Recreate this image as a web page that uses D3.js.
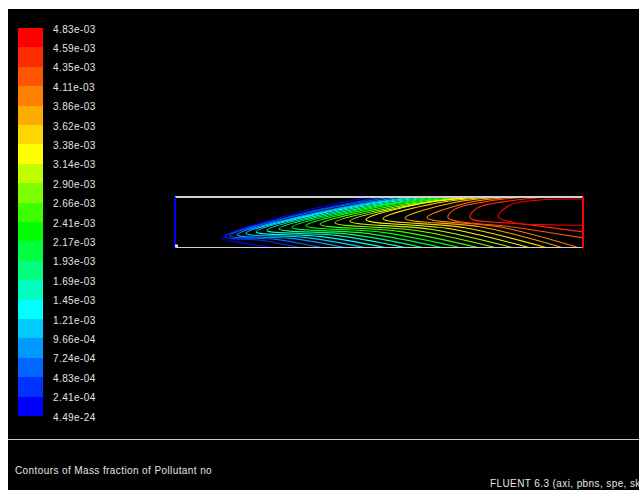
<!DOCTYPE html>
<html>
<head>
<meta charset="utf-8">
<script src="https://cdn.jsdelivr.net/npm/d3@7"></script>
<style>
  body { margin: 0; background: #fff; }
  text { font-family: "Liberation Sans", Arial, sans-serif; font-size: 10px; letter-spacing: 0.4px; fill: #e4e4e4; }
</style>
</head>
<body>
<svg id="chart" width="639" height="490"></svg>
<script>
// colour bar labels, bottom to top (20 bands, 21 boundaries)
const tickLabels = ["4.49e-24", "2.41e-04", "4.83e-04", "7.24e-04", "9.66e-04", "1.21e-03", "1.45e-03",
  "1.69e-03", "1.93e-03", "2.17e-03", "2.41e-03", "2.66e-03", "2.90e-03", "3.14e-03", "3.38e-03",
  "3.62e-03", "3.86e-03", "4.11e-03", "4.35e-03", "4.59e-03", "4.83e-03"];

// contour lines, one per level (lowest first), points as [axial mm, radial mm]
const contourLines = [
  [[195, 50], [121, 34], [47, 9.5], [72, 4], [97, 0]],
  [[207, 50], [128, 34], [50, 10.5], [87, 7], [125, 0]],
  [[217, 50], [136, 35], [55, 11.5], [101, 8], [147, 0]],
  [[226, 50], [144, 35], [62, 12.5], [116, 9], [170, 0]],
  [[235, 50], [153, 36], [71, 14], [130, 10], [190, 0]],
  [[243, 50], [162, 37], [81, 15.5], [145, 11], [210, 0]],
  [[251, 50], [171, 37.5], [92, 17], [161, 12], [230, 0]],
  [[259, 50], [181, 38], [104, 18.5], [176, 13], [248, 0]],
  [[267, 50], [192, 39], [117, 20], [192, 14], [267, 0]],
  [[275, 50], [203, 40], [131, 21.5], [208, 15], [285, 0]],
  [[283, 50], [214, 40.5], [145, 23], [224, 16], [303, 0]],
  [[291, 50], [225, 41], [160, 24.5], [240, 17], [320, 0]],
  [[299, 50], [237, 42], [175, 26], [256, 18], [337, 0]],
  [[307, 50], [249, 44], [191, 27.5], [272, 19], [354, 0]],
  [[317, 50], [262, 44], [208, 28.5], [290, 19.5], [371, 0]],
  [[328, 50], [279, 44.5], [230, 29], [308, 20], [387, 0]],
  [[341, 50], [296, 45], [252, 29.5], [327, 20], [403, 0]],
  [[355, 50], [314, 46], [280, 38], [273, 29.5], [340, 20], [408, 9.5]],
  [[373, 50], [334, 46], [302, 39], [295, 29.5], [350, 23], [408, 15.5]],
  [[408, 48], [365, 47], [335, 42], [323, 30.5], [342, 24], [375, 22.5], [408, 22]]
];

const title = "Contours of Mass fraction of Pollutant no";
const footer = "FLUENT 6.3 (axi, pbns, spe, ske";

const svg = d3.select("#chart");

// black viewport
svg.append("rect").attr("x", 8).attr("y", 9).attr("width", 631).attr("height", 481).attr("fill", "#000");

const color = d3.scaleLinear()
  .domain([0, 5, 9, 13, 19])
  .range(["#0000ff", "#00ffff", "#00ff00", "#ffff00", "#ff0000"]);

// colour bar
const yBar = d3.scaleLinear().domain([0, 20]).range([416, 28]);
const bar = svg.append("g");
bar.selectAll("rect").data(d3.range(20)).enter().append("rect")
  .attr("x", 18).attr("width", 25)
  .attr("y", d => yBar(d + 1))
  .attr("height", d => yBar(d) - yBar(d + 1))
  .attr("fill", d => color(d))
  .attr("shape-rendering", "crispEdges");

bar.selectAll("text").data(tickLabels).enter().append("text")
  .attr("x", 53)
  .attr("y", (d, i) => yBar(i) + 4.5)
  .text(d => d);

// domain
const x = d3.scaleLinear().domain([0, 408]).range([175, 583]);
const r = d3.scaleLinear().domain([0, 50]).range([247.5, 197]);

svg.append("clipPath").attr("id", "dom").append("rect")
  .attr("x", x(0)).attr("y", r(50)).attr("width", x(408) - x(0)).attr("height", r(0) - r(50));

const line = d3.line().x(d => x(d[0])).y(d => r(d[1])).curve(d3.curveCatmullRom.alpha(0.5));

svg.append("g").attr("clip-path", "url(#dom)")
  .selectAll("path").data(contourLines).enter().append("path")
  .attr("d", line)
  .attr("fill", "none")
  .attr("stroke", (d, i) => color(i))
  .attr("stroke-width", 1.1);

// boundaries
const edges = svg.append("g").attr("stroke-width", 1.2).attr("shape-rendering", "crispEdges");
edges.append("line").attr("x1", x(0)).attr("x2", x(408)).attr("y1", r(50)).attr("y2", r(50)).attr("stroke", "#d0d0d0");
edges.append("line").attr("x1", x(0)).attr("x2", x(408)).attr("y1", r(0)).attr("y2", r(0)).attr("stroke", "#d0d0d0");
edges.append("line").attr("x1", x(0)).attr("x2", x(0)).attr("y1", r(50)).attr("y2", r(0)).attr("stroke", color(0));
edges.append("line").attr("x1", x(408)).attr("x2", x(408)).attr("y1", r(50)).attr("y2", r(0)).attr("stroke", color(19));
svg.append("rect").attr("x", x(0)).attr("y", r(0) - 3).attr("width", 3).attr("height", 3).attr("fill", "#e0e0e0");

// footer
svg.append("line").attr("x1", 8).attr("x2", 639).attr("y1", 439.5).attr("y2", 439.5)
  .attr("stroke", "#c8c8c8").attr("stroke-width", 1);
svg.append("text").attr("x", 15).attr("y", 473.5).text(title);
svg.append("text").attr("x", 490).attr("y", 487).text(footer);
</script>
</body>
</html>
